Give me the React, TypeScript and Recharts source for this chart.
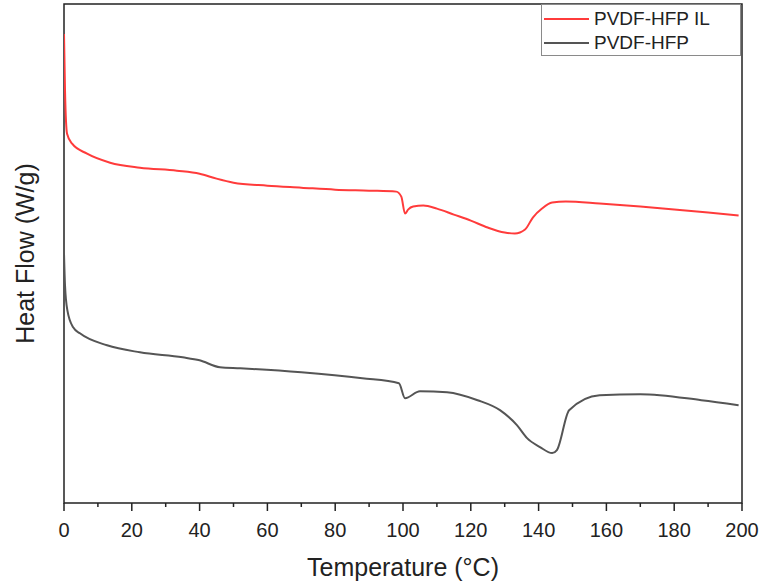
import { LineChart, Line, XAxis, YAxis, ReferenceArea, Legend } from "recharts";

// DSC traces, heat flow in arbitrary units (curves are offset for display)
const ilTemp = [0, 0.3, 0.9, 2.4, 6.8, 13.6, 22.4, 33.3, 40, 45, 50, 60, 70, 80, 90, 98, 99.5, 100.6, 101.5, 103, 106, 110, 115, 120, 125, 130, 133, 136, 138.3, 141, 144, 148, 158, 170, 180, 190, 199];
const ilFlow = [4.7, 4.13, 3.7, 3.6, 3.5, 3.41, 3.36, 3.33, 3.3, 3.25, 3.21, 3.18, 3.16, 3.14, 3.13, 3.12, 3.07, 2.9, 2.94, 2.97, 2.98, 2.95, 2.89, 2.83, 2.76, 2.71, 2.7, 2.74, 2.86, 2.95, 3.01, 3.02, 3.0, 2.97, 2.94, 2.91, 2.88];

const neatTemp = [0, 0.3, 1, 2.7, 4.7, 12.7, 22.4, 35, 40, 46, 52, 70, 88, 98.8, 100.6, 105, 113, 122, 128.6, 133.6, 136.6, 140.4, 144, 145.4, 149, 158, 170, 188, 199];
const neatFlow = [2.5, 2.18, 1.93, 1.76, 1.7, 1.58, 1.51, 1.46, 1.43, 1.36, 1.35, 1.31, 1.25, 1.2, 1.05, 1.12, 1.11, 1.03, 0.93, 0.78, 0.65, 0.56, 0.5, 0.53, 0.93, 1.08, 1.09, 1.03, 0.98];

const xTicks = [0, 10, 20, 30, 40, 50, 60, 70, 80, 90, 100, 110, 120, 130, 140, 150, 160, 170, 180, 190, 200];

const series = [
  { name: "PVDF-HFP IL", color: "#ff3b3b", data: ilTemp.map((t, i) => ({ t, hf: ilFlow[i] })) },
  { name: "PVDF-HFP", color: "#555555", data: neatTemp.map((t, i) => ({ t, hf: neatFlow[i] })) },
];

const FONT = '"Liberation Sans", Arial, sans-serif';
const INK = "#222";

function XTick(props: any) {
  const { x, y, payload } = props;
  const major = payload.value % 20 === 0;
  return (
    <g>
      <line x1={x} x2={x} y1={y} y2={y + (major ? 8 : 4)} stroke={INK} strokeWidth={1.5} />
      {major && (
        <text x={x} y={y + 34} textAnchor="middle" fontSize={20} fill={INK} fontFamily={FONT}>
          {payload.value}
        </text>
      )}
    </g>
  );
}

function LegendBox() {
  return (
    <div
      style={{
        width: 200,
        height: 52,
        boxSizing: "border-box",
        border: "1px solid #8a8a8a",
        background: "#fff",
        fontFamily: FONT,
        fontSize: 19,
        color: INK,
        paddingTop: 2,
      }}
    >
      {series.map((s) => (
        <div key={s.name} style={{ display: "flex", alignItems: "center", height: 24 }}>
          <svg width={52} height={10}>
            <line x1={2} x2={47} y1={5} y2={5} stroke={s.color} strokeWidth={2} />
          </svg>
          <span>{s.name}</span>
        </div>
      ))}
    </div>
  );
}

export default function App() {
  return (
    <div style={{ width: 761, height: 588, background: "#fff" }}>
      <style>{"body{margin:0}"}</style>
      <LineChart width={761} height={588} margin={{ top: 4, right: 19, left: 0, bottom: 0 }}>
        <XAxis
          type="number"
          dataKey="t"
          domain={[0, 200]}
          ticks={xTicks}
          interval={0}
          tickSize={0}
          tickMargin={0}
          tickLine={false}
          tick={<XTick />}
          axisLine={false}
          height={85}
          allowDataOverflow
          label={(p: any) => {
            const vb = p.viewBox;
            return (
              <text x={vb.x + vb.width / 2} y={vb.y + 73} textAnchor="middle" fontSize={25} fill={INK} fontFamily={FONT}>
                Temperature (°C)
              </text>
            );
          }}
        />
        <YAxis
          type="number"
          domain={[0, 5]}
          width={64}
          tick={false}
          tickLine={false}
          axisLine={false}
          allowDataOverflow
          label={(p: any) => {
            const vb = p.viewBox;
            const cx = 34;
            const cy = vb.y + vb.height / 2;
            return (
              <text x={cx} y={cy} transform={`rotate(-90 ${cx} ${cy})`} textAnchor="middle" fontSize={25} fill={INK} fontFamily={FONT}>
                Heat Flow (W/g)
              </text>
            );
          }}
        />
        <ReferenceArea x1={0} x2={200} y1={0} y2={5} fill="none" stroke={INK} strokeWidth={1.5} ifOverflow="visible" />
        {series.map((s) => (
          <Line
            key={s.name}
            data={s.data}
            dataKey="hf"
            name={s.name}
            type="monotone"
            stroke={s.color}
            strokeWidth={2}
            dot={false}
            activeDot={false}
            isAnimationActive={false}
          />
        ))}
        <Legend
          layout="vertical"
          align="center"
          verticalAlign="middle"
          content={() => <LegendBox />}
          wrapperStyle={{ left: 541, top: 4, width: 200, height: 52 }}
        />
      </LineChart>
    </div>
  );
}
